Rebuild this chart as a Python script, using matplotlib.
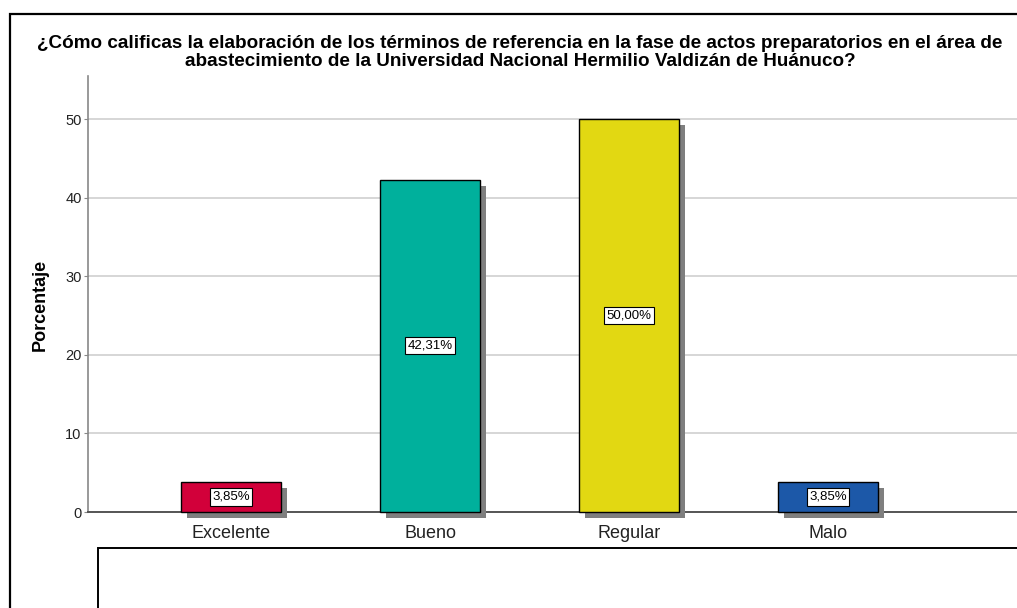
import matplotlib
matplotlib.use('Agg')
import matplotlib.pyplot as plt
import matplotlib.patheffects as pe
from matplotlib.patches import Rectangle

plt.rcParams['font.family'] = ['Liberation Sans', 'DejaVu Sans']

# data
categorias = ['Excelente', 'Bueno', 'Regular', 'Malo']
porcentajes = [3.85, 42.31, 50.00, 3.85]
etiquetas = ['3,85%', '42,31%', '50,00%', '3,85%']
colores = ['#D2003A', '#00B09C', '#E2D812', '#1C58A8']
ticks_y = [0, 10, 20, 30, 40, 50]

titulo = ("¿Cómo calificas la elaboración de los términos de referencia en la fase de actos preparatorios en el área de\n"
          "abastecimiento de la Universidad Nacional Hermilio Valdizán de Huánuco?")

W, H = 1017, 608
fig = plt.figure(figsize=(W / 100, H / 100), dpi=100)

# axes placed in pixel terms (left spine x=88, zero line y=512, top y=76)
left, right, top, bottom = 88, 1040, 76, 512
ax = fig.add_axes([left / W, 1 - bottom / H, (right - left) / W, (bottom - top) / H])

x = range(len(categorias))
bars = ax.bar(x, porcentajes, width=0.5, color=colores, edgecolor='black',
              linewidth=1, zorder=3, clip_on=False)
for b in bars:
    b.set_path_effects([pe.SimplePatchShadow(offset=(4.3, -4.3), shadow_rgbFace='#7f7f7f', alpha=1),
                        pe.Normal()])

for xi, v, txt in zip(x, porcentajes, etiquetas):
    ax.text(xi, v / 2, txt, ha='center', va='center', fontsize=9.5, zorder=5,
            bbox=dict(boxstyle='square,pad=0.2', fc='white', ec='black', lw=0.8))

# px per category = 199, first category centre at x=231
ax.set_xlim(-(231 - left) / 199, (right - 231) / 199)
ax.set_ylim(0, 55.5)
ax.set_yticks(ticks_y)
ax.set_xticks(list(x))
ax.set_xticklabels(categorias, fontsize=13, color='#222222')
ax.tick_params(axis='x', length=0, pad=9)
ax.tick_params(axis='y', labelsize=10.5, length=3, color='#888888', labelcolor='#222222', pad=1.5)
ax.yaxis.grid(True, color='#d0d0d0', linewidth=1.2, zorder=0)
ax.set_axisbelow(True)
for s in ['top', 'right']:
    ax.spines[s].set_visible(False)
ax.spines['left'].set_color('#888888')
ax.spines['bottom'].set_color('#555555')
ax.spines['left'].set_linewidth(1.2)
ax.spines['bottom'].set_linewidth(1.4)

ax.set_ylabel('Porcentaje', fontsize=13, fontweight='bold')
ax.yaxis.set_label_coords(-(88 - 49) / (right - left), (bottom - 305) / (bottom - top))

fig.text(520 / W, 1 - 52.5 / H, titulo, ha='center', va='center', fontsize=13.6,
         fontweight='bold', linespacing=1.04)

# outer frame and lower (legend) box, both running off the picture
fig.add_artist(Rectangle((9.5 / W, -0.1), 1.2, 1 - 14 / H + 0.1, transform=fig.transFigure,
                         fill=False, ec='black', lw=1.6, clip_on=False))
fig.add_artist(Rectangle((98 / W, -0.1), 1.2, 1 - 548 / H + 0.1, transform=fig.transFigure,
                         fill=False, ec='black', lw=1.4, clip_on=False))

fig.savefig('out.png', dpi=100)
